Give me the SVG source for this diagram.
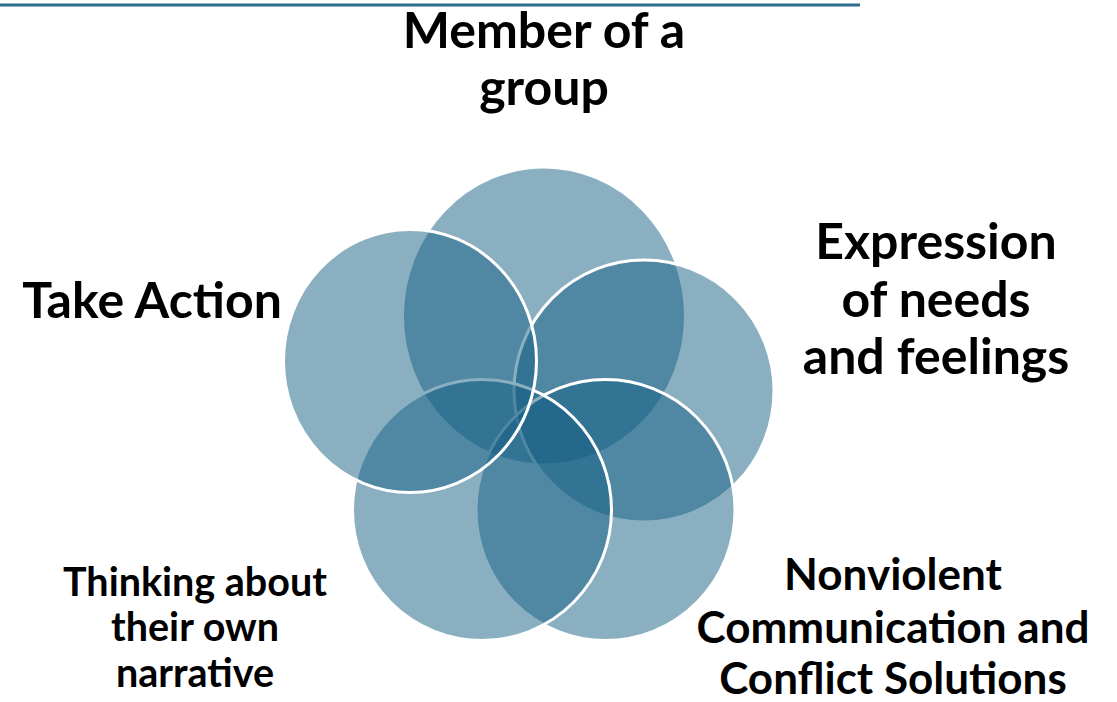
<svg xmlns="http://www.w3.org/2000/svg" width="1117" height="702" viewBox="0 0 1117 702">
<style>
.c{fill:#155F83;fill-opacity:0.5;stroke:#ffffff;stroke-width:3}
.t{font-family:Lato,"Liberation Sans",sans-serif;font-weight:bold;fill:#000000;text-anchor:middle}
.big{font-size:50px}
.mid{font-size:44px}
.sm{font-size:39.5px}
</style>
<rect x="0" y="0" width="1117" height="702" fill="#ffffff"/>
<line x1="0" y1="5" x2="860" y2="5" stroke="#2E6E8E" stroke-width="3"/>
<g id="circles">
<ellipse id="c-top" class="c" cx="544" cy="316" rx="141.5" ry="149"/>
<ellipse id="c-right" class="c" cx="644" cy="391" rx="130" ry="131"/>
<ellipse id="c-botright" class="c" cx="605.5" cy="510" rx="129.5" ry="130.5"/>
<ellipse id="c-botleft" class="c" cx="482" cy="510" rx="129.5" ry="130.5"/>
<ellipse id="c-left" class="c" cx="410" cy="361" rx="126.5" ry="131.5"/>
</g>
<g id="label-top"><text class="t big" x="544" y="48">Member of a</text><text class="t big" x="544" y="105">group</text></g>
<g id="label-left"><text class="t big" x="152" y="318">Take Action</text></g>
<g id="label-right"><text class="t big" x="936" y="259">Expression</text><text class="t big" x="936" y="317">of needs</text><text class="t big" x="936" y="374">and feelings</text></g>
<g id="label-botleft"><text class="t sm" x="195" y="596">Thinking about</text><text class="t sm" x="195" y="641">their own</text><text class="t sm" x="195" y="687">narrative</text></g>
<g id="label-botright"><text class="t mid" x="893" y="590">Nonviolent</text><text class="t mid" x="893" y="643">Communication and</text><text class="t mid" x="893" y="694">Conflict Solutions</text></g>
</svg>
